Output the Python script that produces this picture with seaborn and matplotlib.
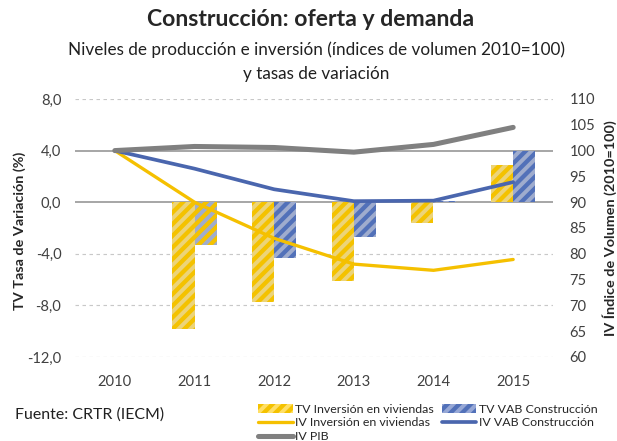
import matplotlib
matplotlib.use("Agg")
import matplotlib.pyplot as plt
import matplotlib.patches as mpatches
from matplotlib.lines import Line2D
import seaborn as sns
import pandas as pd
import numpy as np

# Data
years = ["2010", "2011", "2012", "2013", "2014", "2015"]
tv_inversion = [np.nan, -9.8, -7.7, -6.1, -1.6, 2.9]
tv_vab = [np.nan, -3.3, -4.3, -2.7, 0.1, 4.0]
iv_inversion = [100, 90.0, 83.0, 78.0, 76.8, 78.9]
iv_vab = [100, 96.5, 92.5, 90.2, 90.3, 93.9]
iv_pib = [100, 100.8, 100.6, 99.7, 101.2, 104.5]

left_ticks = [-12, -8, -4, 0, 4, 8]
right_ticks = [60, 65, 70, 75, 80, 85, 90, 95, 100, 105, 110]

# colours
yel_fill, yel_hatch = "#FFDF66", "#F4C200"
blu_fill, blu_hatch = "#97A8D6", "#5271B9"
yel_line, blu_line, gray_line = "#F5C000", "#4A66AE", "#808080"

DPI = 140
sns.set_theme(style="white")
plt.rcParams["font.family"] = ["Lato", "DejaVu Sans"]
plt.rcParams["hatch.linewidth"] = 2.2

bars = pd.DataFrame({
    "year": years * 2,
    "value": tv_inversion + tv_vab,
    "serie": ["TV Inversión en viviendas"] * 6 + ["TV VAB Construcción"] * 6,
})

fig = plt.figure(figsize=(617 / DPI, 441 / DPI), dpi=DPI)
ax = fig.add_axes([75 / 617, 1 - 357 / 441, 478 / 617, 258 / 441])

sns.barplot(data=bars, x="year", y="value", hue="serie", width=0.56,
            palette=[yel_fill, blu_fill], ax=ax, legend=False, zorder=2)
for patch, fc in zip(ax.patches, [yel_hatch] * 6 + [blu_hatch] * 6):
    patch.set_hatch("////")
    patch.set_edgecolor(fc)
    patch.set_linewidth(0)

ax.set_xlim(-0.5, 5.5)
ax.set_ylim(-12, 8)
ax.set_yticks(left_ticks)
ax.set_yticklabels([f"{t:.1f}".replace(".", ",") for t in left_ticks])
for t in left_ticks:
    if t in (0, 4):
        ax.axhline(t, color="#A6A6A6", lw=1.0, zorder=1)
    else:
        ax.axhline(t, color="#C8C8C8", lw=0.6, ls=(0, (3, 3)), zorder=1)
ax.set_xlabel("")
ax.set_ylabel("TV Tasa de Variación (%)", fontsize=7.4, fontweight="bold",
              va="center")
ax.yaxis.set_label_coords(-0.115, 0.49)
ax.tick_params(axis="both", length=0, labelsize=7.6, colors="#404040")
ax.tick_params(axis="y", pad=7)
ax.tick_params(axis="x", pad=9)
sns.despine(ax=ax, left=True, bottom=True)

# index levels on the secondary axis
ax2 = ax.twinx()
pos = np.arange(len(years))
sns.lineplot(x=pos, y=iv_inversion, color=yel_line, lw=1.7, ax=ax2)
sns.lineplot(x=pos, y=iv_vab, color=blu_line, lw=1.9, ax=ax2)
sns.lineplot(x=pos, y=iv_pib, color=gray_line, lw=2.6, ax=ax2)
ax2.set_ylim(60, 110)
ax2.set_yticks(right_ticks)
ax2.set_yticklabels([str(t) for t in right_ticks])
ax2.set_ylabel("IV Índice de Volumen (2010=100)", fontsize=7.4,
               fontweight="bold", va="center", rotation=90)
ax2.yaxis.set_label_coords(1.119, 0.5)
ax2.tick_params(axis="y", length=0, labelsize=7.6, colors="#404040", pad=8.5)
ax2.grid(False)
sns.despine(ax=ax2, left=True, bottom=True, right=True)

# titles
fig.text(0.503, 1 - 19 / 441, "Construcción: oferta y demanda",
         ha="center", va="center", fontsize=11.8, fontweight="bold")
fig.text(0.513, 1 - 50 / 441,
         "Niveles de producción e inversión (índices de volumen 2010=100)",
         ha="center", va="center", fontsize=8.8, color="#202020")
fig.text(0.513, 1 - 74 / 441, "y tasas de variación",
         ha="center", va="center", fontsize=8.8, color="#202020")
fig.text(15 / 617, 1 - 415 / 441, "Fuente: CRTR (IECM)", ha="left",
         va="center", fontsize=8.2, color="#202020")

handles = [
    mpatches.Patch(facecolor=yel_fill, edgecolor=yel_hatch, hatch="////", lw=0),
    Line2D([], [], color=yel_line, lw=1.7),
    Line2D([], [], color=gray_line, lw=2.6),
    mpatches.Patch(facecolor=blu_fill, edgecolor=blu_hatch, hatch="////", lw=0),
    Line2D([], [], color=blu_line, lw=1.9),
]
labels = ["TV Inversión en viviendas", "IV Inversión en viviendas", "IV PIB",
          "TV VAB Construcción", "IV VAB Construcción"]
fig.legend(handles, labels, ncol=2, loc="upper left",
           bbox_to_anchor=(258 / 617, 1 - 404 / 441), frameon=False,
           fontsize=6.4, handlelength=2.8, handleheight=0.7,
           handletextpad=0.2, columnspacing=0.6, labelspacing=0.2,
           borderaxespad=0, borderpad=0)

fig.savefig("out.png", dpi=DPI)
